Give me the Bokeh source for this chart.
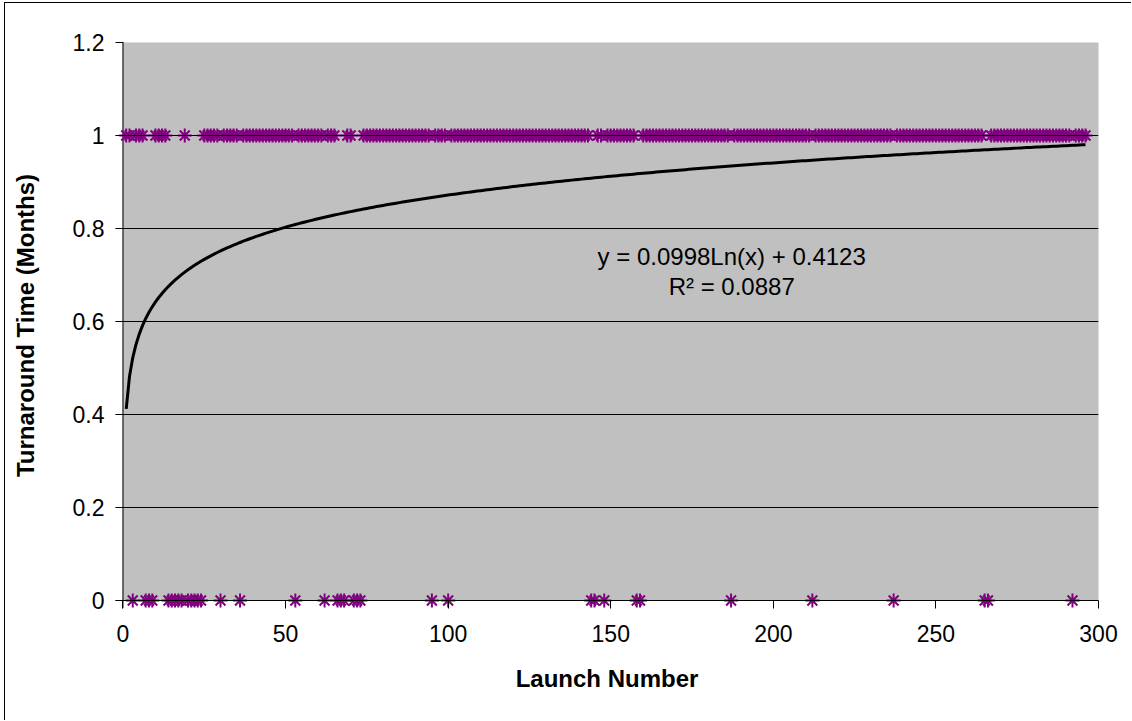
import numpy as np
from bokeh.plotting import figure
from bokeh.models import (Range1d, FixedTicker, Label, CustomJSTickFormatter,
                          BoxAnnotation, Span)
from bokeh.embed import file_html
from bokeh.resources import INLINE

# ---- data ----
n_launches = 296
zero_launches = [3, 7, 8, 9, 14, 15, 16, 17, 18, 20, 21, 22, 23, 24, 30, 36, 53,
                 62, 66, 67, 68, 71, 72, 73, 95, 100, 144, 145, 148, 158, 159,
                 187, 212, 237, 265, 266, 292]
launch_numbers = list(range(1, n_launches + 1))
turnaround = [0 if n in zero_launches else 1 for n in launch_numbers]

# logarithmic trendline as stated on the chart
trend_slope = 0.0998
trend_intercept = 0.4123
trend_r2 = 0.0887

x_ticks = [0, 50, 100, 150, 200, 250, 300]
y_ticks = [0, 0.2, 0.4, 0.6, 0.8, 1, 1.2]

FONT = "Liberation Sans"

# the frame reaches a few pixels past x=0 / y=0 so that markers on the axes
# are not clipped; the ticks fill that margin
p = figure(width=1127, height=718, output_backend="svg", toolbar_location=None,
           x_range=Range1d(-2.3, 300), y_range=Range1d(-0.0172, 1.2),
           min_border_left=110, min_border_right=34, min_border_top=39,
           min_border_bottom=113)
p.styles = {"margin-left": "4px", "margin-top": "2px",
            "border-left": "1px solid black", "border-top": "1px solid black"}
p.background_fill_color = "white"
p.border_fill_color = "white"
p.outline_line_color = None

# plot area (0..300, 0..1.2) in grey with grey border
p.add_layout(BoxAnnotation(left=0, right=300, bottom=0, top=1.2,
                           fill_color="#C0C0C0", fill_alpha=1.0,
                           line_color="#808080", line_width=1, level="underlay"))
# axis lines at x=0 and y=0
p.add_layout(Span(location=0, dimension="width", line_color="black",
                  line_width=1, level="underlay"))
p.add_layout(Span(location=0, dimension="height", line_color="black",
                  line_width=1, level="underlay"))

p.xgrid.visible = False
p.ygrid.grid_line_color = "black"
p.ygrid.grid_line_width = 1
p.ygrid.ticker = FixedTicker(ticks=y_ticks)
p.ygrid.bounds = (0, 300)
p.ygrid.level = "glyph"

fmt = CustomJSTickFormatter(code="return String(Math.round(tick*10)/10)")

for ax, ticks in ((p.xaxis, x_ticks), (p.yaxis, y_ticks)):
    ax.ticker = FixedTicker(ticks=ticks)
    ax.formatter = fmt
    ax.axis_line_color = None
    ax.major_tick_line_color = "black"
    ax.minor_tick_line_color = None
    ax.major_tick_out = 0
    ax.major_tick_in = 8
    ax.major_label_text_font = FONT
    ax.major_label_text_font_size = "23px"
    ax.major_label_text_color = "black"
    ax.axis_label_text_font = FONT
    ax.axis_label_text_font_size = "24px"
    ax.axis_label_text_font_style = "bold"
    ax.axis_label_text_color = "black"

p.xaxis.axis_label = "Launch Number"
p.yaxis.axis_label = "Turnaround Time (Months)"
p.xaxis.major_label_standoff = 16
p.yaxis.major_label_standoff = 11
p.xaxis.axis_label_standoff = 20
p.yaxis.axis_label_standoff = 31

trend_x = np.array(launch_numbers, dtype=float)
trend_y = trend_slope * np.log(trend_x) + trend_intercept
p.line(trend_x, trend_y, line_color="black", line_width=3)

p.scatter(launch_numbers, turnaround, marker="asterisk", size=14,
          line_color="#800080", line_width=2)

p.add_layout(Label(x=187.2, y=0.740, text=f"y = {trend_slope}Ln(x) + {trend_intercept}",
                   text_align="center", text_baseline="middle", text_font=FONT,
                   text_font_size="24px", text_color="black"))
p.add_layout(Label(x=187.2, y=0.676, text=f"R\u00b2 = {trend_r2}",
                   text_align="center", text_baseline="middle", text_font=FONT,
                   text_font_size="24px", text_color="black"))

open("out.html", "w").write(file_html(p, INLINE))
